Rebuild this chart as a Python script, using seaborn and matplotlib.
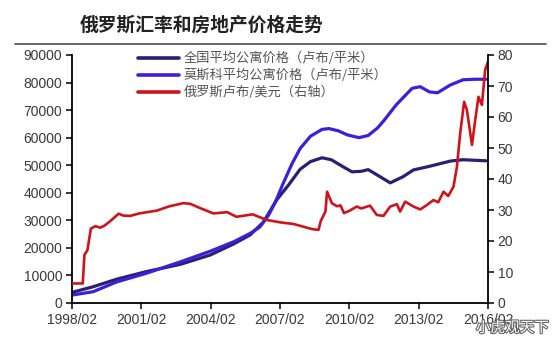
import matplotlib
matplotlib.use("Agg")
import numpy as np
import pandas as pd
import seaborn as sns
import matplotlib.pyplot as plt
import matplotlib.patheffects as pe
from matplotlib.lines import Line2D

# ---------------- data ----------------
national_years = [1998.1, 1999.0, 2000.0, 2001.3, 2002.76, 2004.06, 2005.07, 2005.79,
                  2006.36, 2006.94, 2007.47, 2007.95, 2008.4, 2008.9, 2009.3, 2009.8,
                  2010.2, 2010.6, 2010.9, 2011.3, 2011.85, 2012.4, 2012.86, 2013.6,
                  2014.45, 2015.0, 2016.0]
national_price = [3900, 5900, 8600, 11400, 14000, 17400, 21400, 24700,
                  29300, 37400, 43000, 48500, 51300, 52700, 52000, 49500,
                  47600, 47800, 48400, 46400, 43600, 45800, 48300, 49700,
                  51500, 52000, 51600]

moscow_years = [1998.1, 1999.0, 2000.0, 2001.3, 2002.8, 2004.1, 2005.1, 2005.8,
                2006.2, 2006.6, 2006.9, 2007.2, 2007.6, 2007.95, 2008.4, 2008.9,
                2009.2, 2009.6, 2010.0, 2010.5, 2010.9, 2011.3, 2011.6, 2012.1,
                2012.8, 2013.15, 2013.55, 2013.9, 2014.45, 2015.0, 2015.5, 2016.0]
moscow_price = [2900, 4100, 7600, 10800, 15000, 18900, 22300, 25300,
                27500, 32000, 37000, 43000, 50500, 56000, 60500, 63000,
                63300, 62500, 61000, 60000, 60800, 63500, 66400, 71800,
                77900, 78500, 76600, 76300, 79100, 81000, 81200, 81200]

rub_years = [1998.1, 1998.55, 1998.62, 1998.75, 1998.9, 1999.1, 1999.3, 1999.5,
             1999.8, 2000.1, 2000.3, 2000.6, 2001.0, 2001.75, 2002.3, 2002.9,
             2003.2, 2003.6, 2004.2, 2004.8, 2005.2, 2005.9, 2006.5, 2007.1,
             2007.66, 2008.1, 2008.5, 2008.75, 2008.85, 2009.05, 2009.12, 2009.33,
             2009.55, 2009.7, 2009.85, 2010.1, 2010.4, 2010.6, 2010.98, 2011.27,
             2011.56, 2011.85, 2012.14, 2012.28, 2012.5, 2012.86, 2013.15, 2013.44,
             2013.72, 2013.93, 2014.16, 2014.36, 2014.59, 2014.74, 2014.88, 2015.05,
             2015.17, 2015.39, 2015.53, 2015.67, 2015.82, 2015.96, 2016.08]
rub_usd = [6.3, 6.3, 15.5, 17.0, 24.0, 24.8, 24.3, 25.0,
           26.8, 28.8, 28.2, 28.1, 28.9, 29.8, 31.2, 32.2,
           32.0, 30.7, 28.9, 29.3, 27.8, 28.6, 26.8, 26.0,
           25.5, 24.6, 23.8, 23.6, 26.5, 29.5, 35.9, 32.2,
           31.2, 31.5, 29.0, 29.8, 31.1, 30.5, 31.4, 28.4,
           28.1, 31.1, 31.9, 29.5, 32.7, 31.1, 30.2, 31.6,
           33.2, 32.5, 35.9, 34.5, 37.5, 44.0, 54.7, 64.9,
           62.3, 51.0, 59.0, 66.5, 63.9, 75.2, 77.8]

x_tick_pos = [1998 + 1 / 12 + 3 * k for k in range(7)]
x_tick_labels = ["1998/02", "2001/02", "2004/02", "2007/02", "2010/02", "2013/02", "2016/02"]
left_ticks = [0, 10000, 20000, 30000, 40000, 50000, 60000, 70000, 80000, 90000]
left_labels = ["0", "10000", "20000", "30000", "40000", "50000", "60000", "70000", "80000", "90000"]
right_ticks = [0, 10, 20, 30, 40, 50, 60, 70, 80]
right_labels = ["0", "10", "20", "30", "40", "50", "60", "70", "80"]

labels = ["全国平均公寓价格（卢布/平米）", "莫斯科平均公寓价格（卢布/平米）", "俄罗斯卢布/美元（右轴）"]
title = "俄罗斯汇率和房地产价格走势"
watermark = "小虎观天下"

# ---------------- styling ----------------
sns.set_theme(style="white")
CJK = ["Noto Sans CJK SC", "DejaVu Sans"]
plt.rcParams["font.family"] = ["Liberation Sans", "Noto Sans CJK SC", "DejaVu Sans"]

c_nat = "#2a1f72"
c_msk = "#3a1fdc"
c_rub = "#d0121b"

W, H = 554, 343
fig = plt.figure(figsize=(W / 100, H / 100), dpi=100)
ax = fig.add_axes([72 / W, 40 / H, (488 - 72) / W, (303 - 55) / H])

df_nat = pd.DataFrame({"year": national_years, "v": national_price})
df_msk = pd.DataFrame({"year": moscow_years, "v": moscow_price})
df_rub = pd.DataFrame({"year": rub_years, "v": rub_usd})

sns.lineplot(data=df_nat, x="year", y="v", ax=ax, color=c_nat, lw=2.3, label=labels[0])
sns.lineplot(data=df_msk, x="year", y="v", ax=ax, color=c_msk, lw=2.3, label=labels[1])
ax2 = ax.twinx()
sns.lineplot(data=df_rub, x="year", y="v", ax=ax2, color=c_rub, lw=1.9, label=labels[2])

ax.set_xlim(x_tick_pos[0], x_tick_pos[-1])
ax.set_ylim(0, 90000)
ax2.set_ylim(0, 80)
ax.set_xticks(x_tick_pos)
ax.set_xticklabels(x_tick_labels)
ax.set_yticks(left_ticks)
ax.set_yticklabels(left_labels)
ax2.set_yticks(right_ticks)
ax2.set_yticklabels(right_labels)
ax.set_xlabel("")
ax.set_ylabel("")
ax2.set_ylabel("")
ax.grid(False)
ax2.grid(False)

for a in (ax, ax2):
    a.spines["top"].set_visible(False)
    for s in ("left", "right", "bottom"):
        a.spines[s].set_color("black")
        a.spines[s].set_linewidth(1.3)
ax.spines["right"].set_visible(False)
ax2.spines["left"].set_visible(False)
ax2.spines["bottom"].set_visible(False)

ax.tick_params(axis="both", which="both", direction="out", length=4, width=1.1,
               color="black", labelsize=10, labelcolor="#3a3a3a", bottom=True, left=True, pad=3)
ax2.tick_params(axis="y", direction="out", length=4, width=1.1, color="black",
                labelsize=10, labelcolor="#3a3a3a", right=True, pad=3)

h1, l1 = ax.get_legend_handles_labels()
h2, l2 = ax2.get_legend_handles_labels()
if ax.get_legend() is not None:
    ax.get_legend().remove()
if ax2.get_legend() is not None:
    ax2.get_legend().remove()
leg = ax2.legend(h1 + h2, l1 + l2, loc="upper left", bbox_to_anchor=(138 / W, 1 - 52 / H),
                 bbox_transform=fig.transFigure, frameon=False, borderpad=0, borderaxespad=0,
                 handlelength=3.1, handletextpad=0.35, labelspacing=0.28,
                 prop={"family": CJK, "size": 9.5})
for t in leg.get_texts():
    t.set_color("#555555")
for ln in leg.get_lines():
    ln.set_linewidth(2.6)

fig.text(80 / W, 1 - 25 / H, title, ha="left", va="center", fontsize=13.5,
         fontweight="bold", family=CJK, color="#222222")
fig.add_artist(Line2D([15 / W, 546 / W], [1 - 44 / H] * 2, color="#666666", lw=1.4,
                      transform=fig.transFigure))
fig.text(549 / W, 1 - 328 / H, watermark, ha="right", va="center", fontsize=10.5,
         family=CJK, color="white",
         path_effects=[pe.withStroke(linewidth=1.6, foreground="#666666")])

fig.savefig("out.png", dpi=100)
